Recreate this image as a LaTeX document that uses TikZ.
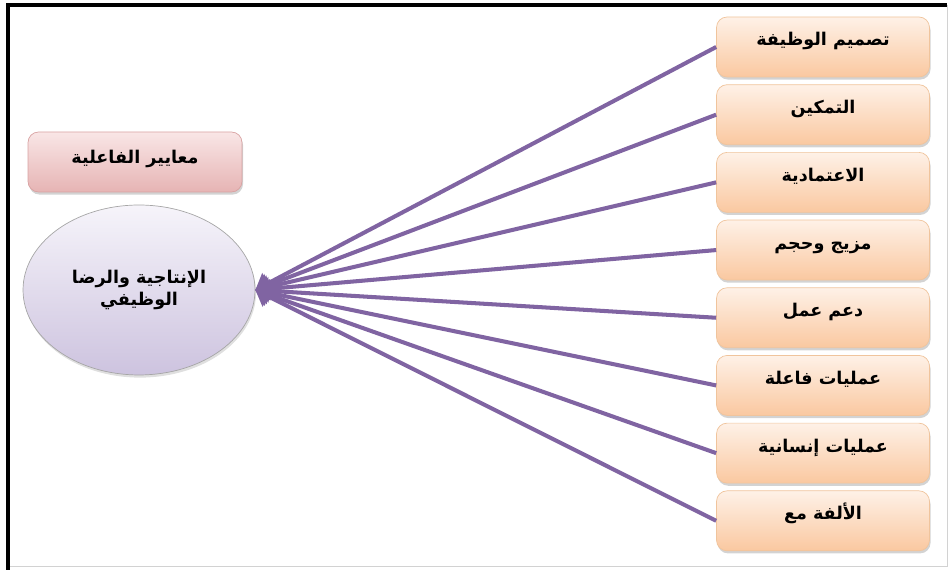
\documentclass[tikz,border=0pt]{standalone}
\usepackage{fontspec}
\usetikzlibrary{arrows.meta}
\usetikzlibrary{positioning}
\usetikzlibrary{shadows}
\usetikzlibrary{shapes.geometric}
\TeXXeTstate=1
\newfontfamily\arabicfont[Script=Arabic]{DejaVu Sans}
\newcommand{\artext}[1]{{\arabicfont\bfseries\beginR #1\endR}}
\definecolor{mpurple}{HTML}{8064A2}
\definecolor{mpeachtop}{HTML}{FEF1E7}
\definecolor{mpeachbot}{HTML}{FAC8A0}
\definecolor{mpeachline}{HTML}{F0C49C}
\definecolor{mpinktop}{HTML}{F9E6E6}
\definecolor{mpinkbot}{HTML}{E6B4B4}
\definecolor{mpinkline}{HTML}{D8A2A2}
\definecolor{mlilactop}{HTML}{F6F4FA}
\definecolor{mlilacbot}{HTML}{CDC3DF}
\tikzset{factor/.style = {rectangle, rounded corners=6pt, draw=mpeachline,
                          top color=mpeachtop, bottom color=mpeachbot,
                          minimum width=4.26cm, inner sep=0pt,
                          text height=0.58cm, text depth=0.62cm,
                          font=\fontsize{10}{12}\selectfont,
                          drop shadow={shadow xshift=0.6pt, shadow yshift=-1.5pt, opacity=0.35}}}
\tikzset{critbox/.style = {rectangle, rounded corners=6pt, draw=mpinkline,
                           top color=mpinktop, bottom color=mpinkbot,
                           minimum width=4.28cm, inner sep=0pt,
                           text height=0.64cm, text depth=0.56cm,
                           font=\fontsize{10}{12}\selectfont,
                           drop shadow={shadow xshift=0.6pt, shadow yshift=-1.5pt, opacity=0.35}}}
\tikzset{goalell/.style = {ellipse, draw=gray!70, top color=mlilactop, bottom color=mlilacbot,
                           minimum width=4.64cm, minimum height=3.4cm, align=center,
                           font=\fontsize{10}{12.5}\selectfont,
                           drop shadow={shadow xshift=0.6pt, shadow yshift=-1.5pt, opacity=0.25}}}
\tikzset{link/.style = {mpurple, line width=2.3pt, -{Triangle[length=8pt, width=13pt]}}}

\begin{document}
\begin{tikzpicture}[x=0.02cm, y=0.02cm]
    \useasboundingbox (0, 0) rectangle (950, 570);

    \draw [gray!35] (947, 565) -- (947, 4) -- (8, 4);
    \draw [line width=2.3pt] (8, 0) -- (8, 565) -- (947, 565);

    \node (crit) [critbox] at (135, 408) {\artext{معايير الفاعلية}};
    \node (goal) [goalell] at (139, 280) {\artext{الإنتاجية والرضا}\\\artext{الوظيفي}};

    \node (b1) [factor] at (823, 523) {\artext{تصميم الوظيفة}};
    \node (b2) [factor, below=0.14cm of b1] {\artext{التمكين}};
    \node (b3) [factor, below=0.14cm of b2] {\artext{الاعتمادية}};
    \node (b4) [factor, below=0.14cm of b3] {\artext{مزيج وحجم}};
    \node (b5) [factor, below=0.14cm of b4] {\artext{دعم عمل}};
    \node (b6) [factor, below=0.14cm of b5] {\artext{عمليات فاعلة}};
    \node (b7) [factor, below=0.14cm of b6] {\artext{عمليات إنسانية}};
    \node (b8) [factor, below=0.14cm of b7] {\artext{الألفة مع}};

    \foreach \i in {1,...,8}
      \draw [link] (b\i.west) -- (goal.east);
  \end{tikzpicture}
\end{document}
